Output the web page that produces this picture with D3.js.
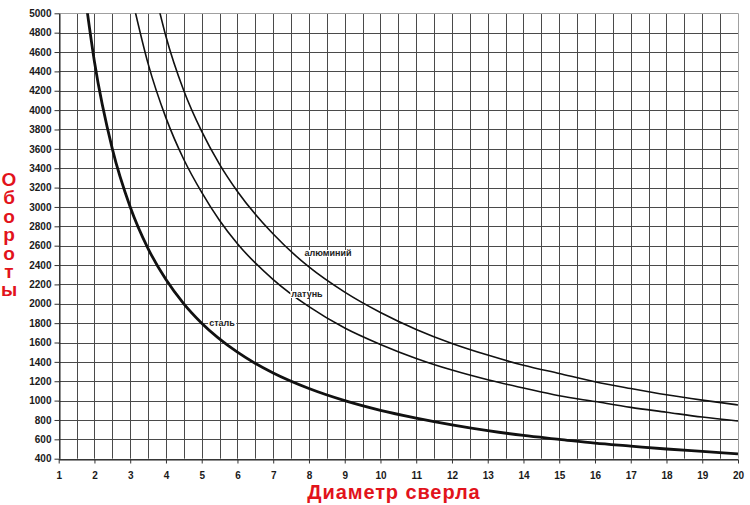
<!DOCTYPE html>
<html>
<head>
<meta charset="utf-8">
<script src="https://cdnjs.cloudflare.com/ajax/libs/d3/7.8.5/d3.min.js"></script>
<style>
  body { margin: 0; background: #fff; }
  svg { display: block; }
</style>
</head>
<body>
<div id="chart"></div>
<script>
// tick labels
var xTicks = [1, 2, 3, 4, 5, 6, 7, 8, 9, 10, 11, 12, 13, 14, 15, 16, 17, 18, 19, 20];
var yTicks = [400, 600, 800, 1000, 1200, 1400, 1600, 1800, 2000, 2200, 2400, 2600, 2800,
	3000, 3200, 3400, 3600, 3800, 4000, 4200, 4400, 4600, 4800, 5000];
var xGrid = [1, 1.5, 2, 2.5, 3, 3.5, 4, 4.5, 5, 5.5, 6, 6.5, 7, 7.5, 8, 8.5, 9, 9.5, 10, 10.5,
	11, 11.5, 12, 12.5, 13, 13.5, 14, 14.5, 15, 15.5, 16, 16.5, 17, 17.5, 18, 18.5, 19, 19.5, 20];

// series: drill diameter (mm) -> rpm
var steelD   = [1.75, 2, 2.5, 3, 3.5, 4, 4.5, 5, 6, 7, 8, 9, 10, 11, 12, 13, 14, 15, 16, 17, 18, 19, 20];
var steelRpm = [5150, 4500, 3600, 3000, 2570, 2250, 2000, 1800, 1500, 1285, 1125, 1000, 900, 820, 750, 690, 640, 600, 560, 530, 500, 475, 450];

var brassD   = [3.1, 3.5, 4, 4.5, 5, 5.5, 6, 7, 8, 9, 10, 11, 12, 13, 14, 15, 16, 17, 18, 19, 20];
var brassRpm = [5080, 4480, 3920, 3490, 3150, 2860, 2620, 2250, 1970, 1750, 1580, 1435, 1315, 1215, 1130, 1050, 990, 930, 880, 830, 790];

var alumD    = [3.8, 4, 4.5, 5, 5.5, 6, 7, 8, 9, 10, 11, 12, 13, 14, 15, 16, 17, 18, 19, 20];
var alumRpm  = [5050, 4760, 4200, 3780, 3440, 3160, 2720, 2380, 2120, 1910, 1735, 1590, 1470, 1365, 1280, 1195, 1125, 1060, 1005, 955];

var W = 750, H = 505;
var m = { left: 58.7, right: 738, top: 13.3, bottom: 458.7 };
var red = "#e2131b";

var svg = d3.select("#chart").append("svg")
	.attr("width", W)
	.attr("height", H);

var x = d3.scaleLinear().domain([1, 20]).range([m.left, m.right]);
var y = d3.scaleLinear().domain([400, 5000]).range([m.bottom, m.top]);

// grid
var grid = svg.append("g");
grid.selectAll("line.v")
	.data(xGrid)
	.enter().append("line")
	.attr("class", "v")
	.attr("x1", function(d) { return Math.round(x(d)) + 0.5; })
	.attr("x2", function(d) { return Math.round(x(d)) + 0.5; })
	.attr("y1", m.top)
	.attr("y2", m.bottom)
	.attr("stroke", function(d) { return d === 20 ? "#a0a0a0" : "#4a4a4a"; })
	.attr("stroke-width", 1);

grid.selectAll("line.h")
	.data(yTicks)
	.enter().append("line")
	.attr("class", "h")
	.attr("x1", m.left)
	.attr("x2", m.right)
	.attr("y1", function(d) { return Math.round(y(d)) + 0.5; })
	.attr("y2", function(d) { return Math.round(y(d)) + 0.5; })
	.attr("stroke", function(d) { return d === 5000 ? "#a0a0a0" : "#4a4a4a"; })
	.attr("stroke-width", 1);

// axes
var yAxis = svg.append("g")
	.attr("transform", "translate(" + (Math.round(m.left) + 0.5) + ",0)")
	.call(d3.axisLeft(y).tickValues(yTicks).tickSize(5).tickSizeOuter(0).tickPadding(3).tickFormat(d3.format("d")));

var xAxis = svg.append("g")
	.attr("transform", "translate(0," + (Math.round(m.bottom) + 0.5) + ")")
	.call(d3.axisBottom(x).tickValues(xTicks).tickSize(4).tickSizeOuter(0).tickPadding(8).tickFormat(d3.format("d")));

[yAxis, xAxis].forEach(function(a) {
	a.select(".domain").attr("stroke", "#222");
	a.selectAll(".tick line").attr("stroke", "#333");
	a.selectAll(".tick text")
		.attr("fill", "#1a1a1a")
		.style("font-family", "Liberation Sans, Arial, sans-serif")
		.style("font-size", "10px")
		.style("font-weight", "bold");
});

// curves
svg.append("clipPath").attr("id", "plot")
	.append("rect")
	.attr("x", m.left).attr("y", m.top)
	.attr("width", m.right - m.left).attr("height", m.bottom - m.top);

var line = d3.line()
	.x(function(d) { return x(d[0]); })
	.y(function(d) { return y(d[1]); })
	.curve(d3.curveMonotoneX);

var series = [
	{ d: steelD, v: steelRpm, w: 2.8 },
	{ d: brassD, v: brassRpm, w: 1.6 },
	{ d: alumD, v: alumRpm, w: 1.6 }
];

svg.append("g")
	.attr("clip-path", "url(#plot)")
	.selectAll("path")
	.data(series)
	.enter().append("path")
	.attr("d", function(s) { return line(s.d.map(function(d, i) { return [d, s.v[i]]; })); })
	.attr("fill", "none")
	.attr("stroke", "#111")
	.attr("stroke-width", function(s) { return s.w; });

// curve labels
var labels = [
	{ t: "алюминий", x: 328, y: 256 },
	{ t: "латунь", x: 307, y: 297 },
	{ t: "сталь", x: 222, y: 326 }
];
var lg = svg.append("g");
labels.forEach(function(l) {
	var t = lg.append("text")
		.attr("x", l.x)
		.attr("y", l.y)
		.attr("text-anchor", "middle")
		.style("font-family", "Liberation Sans, Arial, sans-serif")
		.style("font-size", "9px")
		.style("font-weight", "bold")
		.attr("fill", "#222")
		.text(l.t);
	var b = t.node().getBBox();
	lg.insert("rect", "text")
		.attr("x", b.x - 1)
		.attr("y", b.y + 2)
		.attr("width", b.width + 2)
		.attr("height", b.height - 3)
		.attr("fill", "#fff");
});

// titles: vertical stacked letters
svg.append("g")
	.selectAll("text")
	.data("Обороты".split(""))
	.enter().append("text")
	.attr("x", 9)
	.attr("y", function(d, i) { return 186 + i * 18.4; })
	.attr("text-anchor", "middle")
	.style("font-family", "Liberation Sans, Arial, sans-serif")
	.style("font-size", "19px")
	.style("font-weight", "bold")
	.attr("fill", red)
	.text(function(d) { return d; });

svg.append("text")
	.attr("x", 394)
	.attr("y", 499)
	.attr("text-anchor", "middle")
	.style("font-family", "Liberation Sans, Arial, sans-serif")
	.style("font-size", "20px")
	.style("font-weight", "bold")
	.style("letter-spacing", "0.9px")
	.attr("fill", red)
	.text("Диаметр сверла");
</script>
</body>
</html>
